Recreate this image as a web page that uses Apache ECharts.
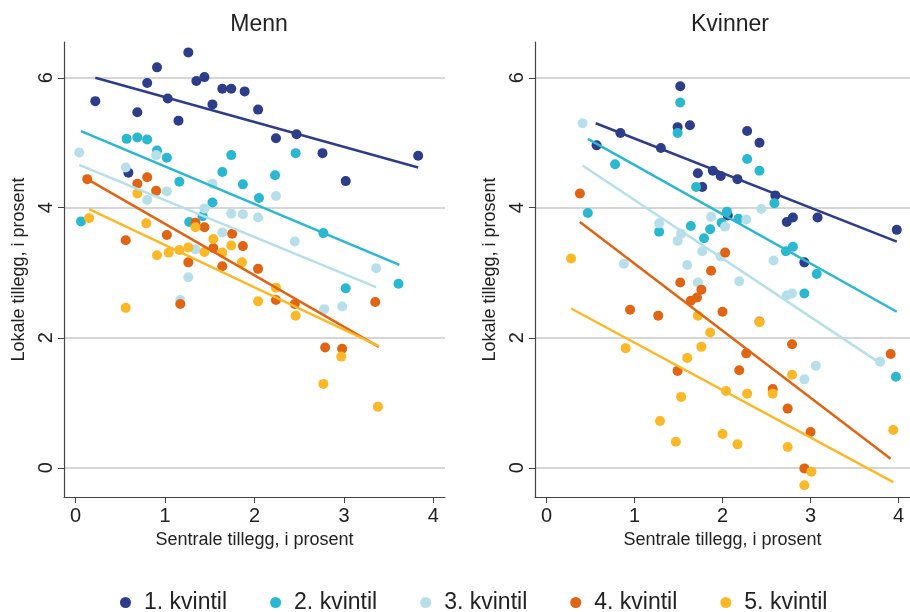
<!doctype html>
<html>
<head>
<meta charset="utf-8">
<title>Lokale og sentrale tillegg</title>
<script src="https://cdn.jsdelivr.net/npm/echarts@6/dist/echarts.min.js"></script>
<style>
  html, body { margin: 0; padding: 0; background: #fff; }
  #chart { width: 910px; height: 612px; }
</style>
</head>
<body>
<div id="chart"></div>
<script>
// kategorier
var kvintiler = ['1. kvintil', '2. kvintil', '3. kvintil', '4. kvintil', '5. kvintil'];
var farger = ['#2e3d8a', '#29b8cf', '#b6dfea', '#e06412', '#fdb827'];
var paneler = ['Menn', 'Kvinner'];
var xTicks = [0, 1, 2, 3, 4];
var yTicks = [0, 2, 4, 6];

// Menn: punkter [sentrale, lokale]
var menn1 = [[0.22,5.64],[0.69,5.47],[0.80,5.92],[0.91,6.16],[1.03,5.68],[1.15,5.34],[1.26,6.39],[1.35,5.95],
  [1.44,6.01],[1.53,5.59],[1.64,5.83],[1.74,5.83],[1.89,5.79],[2.04,5.51],[0.59,4.54],[2.24,5.07],[2.47,5.13],
  [2.76,4.84],[3.02,4.41],[3.83,4.80]];
var menn2 = [[0.57,5.06],[0.69,5.08],[0.80,5.05],[0.91,4.88],[1.02,4.77],[1.74,4.81],[1.64,4.55],[1.87,4.36],
  [1.16,4.40],[2.05,4.15],[1.53,4.08],[0.06,3.79],[1.27,3.78],[1.42,3.87],[2.23,4.50],[2.46,4.84],[2.77,3.61],
  [3.02,2.76],[3.61,2.83]];
var menn3 = [[0.04,4.85],[0.56,4.62],[0.90,4.81],[1.53,4.37],[1.02,4.25],[0.80,4.12],[1.44,3.99],[1.74,3.91],
  [1.87,3.90],[2.04,3.85],[1.64,3.62],[1.34,3.36],[1.26,2.93],[1.17,2.58],[2.24,4.18],[2.45,3.48],[3.36,3.07],
  [2.78,2.44],[2.98,2.48]];
var menn4 = [[0.13,4.44],[0.80,4.47],[0.69,4.37],[0.90,4.26],[0.56,3.50],[1.02,3.58],[1.34,3.77],[1.44,3.70],
  [1.75,3.60],[1.54,3.38],[1.87,3.41],[1.26,3.16],[1.64,3.10],[2.04,3.06],[1.17,2.52],[2.24,2.58],[2.45,2.52],
  [3.35,2.55],[2.79,1.85],[2.98,1.83]];
var menn5 = [[0.69,4.22],[0.15,3.84],[0.79,3.76],[1.34,3.70],[1.54,3.52],[1.74,3.42],[1.26,3.39],[1.16,3.35],
  [1.04,3.31],[0.91,3.27],[1.44,3.32],[1.64,3.31],[1.86,3.16],[2.04,2.56],[0.56,2.46],[2.24,2.77],[2.46,2.34],
  [2.97,1.71],[2.77,1.29],[3.38,0.94]];

// Kvinner: punkter [sentrale, lokale]
var kvinner1 = [[0.57,4.96],[0.84,5.15],[1.30,4.92],[1.52,5.87],[1.49,5.24],[1.63,5.27],[1.72,4.53],[1.77,4.32],
  [1.89,4.57],[1.98,4.49],[2.17,4.44],[2.28,5.18],[2.42,5.00],[2.06,3.88],[2.60,4.19],[2.73,3.78],[2.80,3.85],
  [3.08,3.85],[2.93,3.16],[3.98,3.66]];
var kvinner2 = [[1.52,5.62],[1.49,5.15],[0.78,4.67],[0.47,3.92],[1.70,4.32],[2.05,3.94],[1.99,3.77],[1.28,3.63],
  [1.64,3.72],[1.86,3.67],[1.79,3.53],[2.28,4.75],[2.42,4.57],[2.59,4.07],[2.18,3.83],[2.72,3.33],[2.80,3.40],
  [3.07,2.98],[2.93,2.68],[3.97,1.40]];
var kvinner3 = [[0.41,5.30],[1.28,3.76],[1.53,3.60],[1.87,3.86],[2.03,3.71],[1.49,3.49],[1.77,3.33],[0.88,3.14],
  [1.60,3.12],[1.72,2.85],[2.27,3.82],[2.44,3.98],[1.98,3.25],[2.58,3.19],[2.19,2.87],[2.73,2.65],[2.79,2.68],
  [3.06,1.57],[2.93,1.36],[3.79,1.63]];
var kvinner4 = [[0.38,4.22],[2.03,3.31],[1.87,3.03],[1.52,2.85],[1.76,2.74],[1.71,2.62],[1.64,2.57],[0.95,2.43],
  [1.27,2.34],[2.00,2.40],[1.49,1.49],[2.42,2.25],[2.79,1.90],[2.27,1.76],[2.19,1.50],[2.57,1.21],[2.74,0.91],
  [3.00,0.55],[2.93,-0.01],[3.91,1.75]];
var kvinner5 = [[0.28,3.22],[1.72,2.34],[1.86,2.08],[0.90,1.84],[1.76,1.86],[1.60,1.69],[2.04,1.18],[1.53,1.09],
  [1.29,0.72],[2.00,0.52],[1.47,0.40],[2.42,2.24],[2.79,1.43],[2.28,1.14],[2.57,1.14],[2.17,0.36],[2.74,0.32],
  [3.01,-0.06],[2.93,-0.27],[3.94,0.58]];

// tilpassede linjer (start- og sluttpunkt)
var mennFit = [
  [[0.22,6.00],[3.83,4.62]],
  [[0.06,5.18],[3.62,3.12]],
  [[0.04,4.66],[3.36,2.78]],
  [[0.13,4.44],[3.39,1.86]],
  [[0.15,3.98],[3.39,1.87]]
];
var kvinnerFit = [
  [[0.56,5.30],[3.98,3.48]],
  [[0.47,5.06],[3.98,2.40]],
  [[0.41,4.65],[3.79,1.61]],
  [[0.38,3.78],[3.91,0.14]],
  [[0.28,2.45],[3.94,-0.22]]
];

var mennData = [menn1, menn2, menn3, menn4, menn5];
var kvinnerData = [kvinner1, kvinner2, kvinner3, kvinner4, kvinner5];

var font = 'Liberation Sans, Arial, Helvetica, sans-serif';
var tekst = '#222';

function lagAkser(idx) {
  var x = {
    type: 'value', gridIndex: idx, min: -0.13, max: 4.13,
    name: 'Sentrale tillegg, i prosent', nameLocation: 'middle', nameGap: 33,
    nameTextStyle: { fontSize: 18, color: tekst, fontFamily: font },
    axisLine: { show: true, onZero: false, lineStyle: { color: '#444', width: 1.2 } },
    axisTick: { show: true, length: 6, lineStyle: { color: '#444' }, customValues: xTicks },
    axisLabel: { fontSize: 20, color: tekst, fontFamily: font, margin: 9, customValues: xTicks },
    splitLine: { show: false }
  };
  var y = {
    type: 'value', gridIndex: idx, min: -0.45, max: 6.55,
    name: 'Lokale tillegg, i prosent', nameLocation: 'middle', nameGap: 36,
    nameTextStyle: { fontSize: 18, color: tekst, fontFamily: font },
    axisLine: { show: true, onZero: false, lineStyle: { color: '#444', width: 1.2 } },
    axisTick: { show: true, length: 6, lineStyle: { color: '#444' }, customValues: yTicks },
    axisLabel: { fontSize: 20, color: tekst, fontFamily: font, rotate: 90, margin: 8, customValues: yTicks },
    splitLine: { show: true, lineStyle: { color: '#c8c8c8', width: 1.5 } }
  };
  return { x: x, y: y };
}

var a0 = lagAkser(0), a1 = lagAkser(1);
var series = [];
[mennData, kvinnerData].forEach(function (panel, p) {
  panel.forEach(function (pts, k) {
    series.push({
      name: kvintiler[k], type: 'scatter', xAxisIndex: p, yAxisIndex: p,
      data: pts, symbol: 'circle', symbolSize: 10,
      itemStyle: { color: farger[k], opacity: 1 }, z: 2
    });
  });
  var fits = p === 0 ? mennFit : kvinnerFit;
  fits.forEach(function (seg, k) {
    series.push({
      name: kvintiler[k], type: 'line', xAxisIndex: p, yAxisIndex: p,
      data: seg, showSymbol: false, symbol: 'none',
      lineStyle: { color: farger[k], width: 2.5 }, itemStyle: { color: farger[k] }, z: 3
    });
  });
});

var chart = echarts.init(document.getElementById('chart'), null, { renderer: 'canvas' });
chart.setOption({
  animation: false,
  backgroundColor: '#fff',
  title: [
    { text: paneler[0], left: 254, top: 8, textAlign: 'center',
      textStyle: { fontSize: 23, fontWeight: 'normal', color: tekst, fontFamily: font } },
    { text: paneler[1], left: 725, top: 8, textAlign: 'center',
      textStyle: { fontSize: 23, fontWeight: 'normal', color: tekst, fontFamily: font } }
  ],
  legend: {
    data: kvintiler.map(function (n) { return { name: n, icon: 'circle' }; }),
    top: 586, left: 115, itemWidth: 11, itemHeight: 11, itemGap: 43,
    textStyle: { fontSize: 23, color: tekst, fontFamily: font, padding: [0, 0, 0, 8] },
    selectedMode: false
  },
  grid: [
    { left: 64, top: 42, width: 381, height: 455 },
    { left: 535, top: 42, width: 380, height: 455 }
  ],
  xAxis: [a0.x, a1.x],
  yAxis: [a0.y, a1.y],
  series: series
});
</script>
</body>
</html>
